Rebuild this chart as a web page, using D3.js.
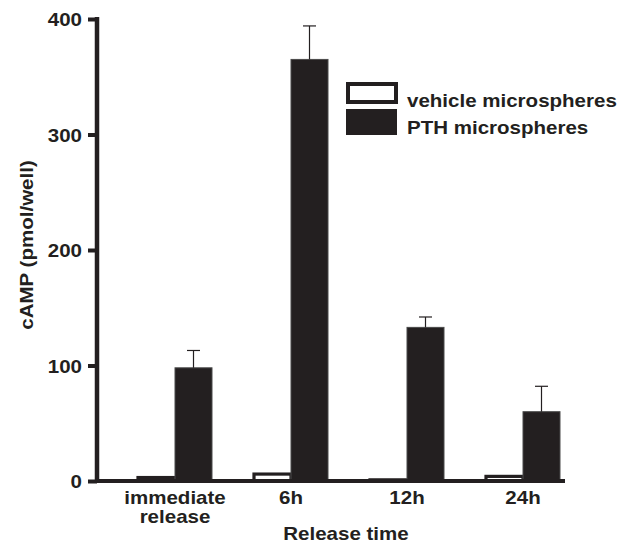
<!DOCTYPE html>
<html>
<head>
<meta charset="utf-8">
<script src="https://cdn.jsdelivr.net/npm/d3@7/dist/d3.min.js"></script>
<style>
  html, body { margin: 0; padding: 0; background: #fff; }
  svg { display: block; font-family: "Liberation Sans", Arial, sans-serif; font-weight: bold; }
</style>
</head>
<body>
<svg id="chart" width="620" height="543"></svg>
<script>
// Release-time groups and the two treatment series (cAMP, pmol/well)
const categories = ["immediate release", "6h", "12h", "24h"];
const categoryLines = [["immediate", "release"], ["6h"], ["12h"], ["24h"]];
const seriesNames = ["vehicle microspheres", "PTH microspheres"];
const vehicleValues = [3, 6, 1, 4];
const pthValues = [98, 365, 133, 60];
const vehicleErrors = [0, 0, 0, 0];
const pthErrors = [15, 29, 9, 22];
const yTicks = [0, 100, 200, 300, 400];

const ink = "#231f20";
const fontSize = "18px";
const stretch = 1.14; // wide bold lettering
const svg = d3.select("#chart");

// place a text at (x, y) with horizontally widened glyphs
function placeText(sel, x, y, rotate) {
  sel.attr("x", 0).attr("y", 0)
    .attr("transform", `translate(${x},${y})${rotate ? ` rotate(${rotate})` : ""} scale(${stretch},1)`);
  return sel;
}

const y = d3.scaleLinear().domain([0, 400]).range([481, 19]);
const x0 = d3.scaleBand().domain(categories).range([117, 581]).padding(0);
const x1 = d3.scaleBand().domain(seriesNames).range([21, 95]).padding(0);

const rows = categories.map((c, i) => ({
  cat: c,
  bars: [
    { s: seriesNames[0], v: vehicleValues[i], e: vehicleErrors[i] },
    { s: seriesNames[1], v: pthValues[i], e: pthErrors[i] }
  ]
}));

// Bars
const g = svg.append("g");
const groups = g.selectAll("g.grp").data(rows).join("g")
  .attr("class", "grp")
  .attr("transform", d => `translate(${x0(d.cat)},0)`);

groups.selectAll("rect").data(d => d.bars).join("rect")
  .attr("x", d => x1(d.s))
  .attr("width", x1.bandwidth())
  .attr("y", d => y(d.v))
  .attr("height", d => y(0) - y(d.v))
  .attr("fill", d => d.s === seriesNames[0] ? "#fff" : ink)
  .attr("stroke", d => d.s === seriesNames[0] ? ink : "#4a4a4a")
  .attr("stroke-width", d => d.s === seriesNames[0] ? 3.2 : 1);

// Upward error bars with caps
const err = groups.selectAll("g.err").data(d => d.bars.filter(b => b.e > 0)).join("g").attr("class", "err");
err.append("line")
  .attr("x1", d => x1(d.s) + x1.bandwidth() / 2)
  .attr("x2", d => x1(d.s) + x1.bandwidth() / 2)
  .attr("y1", d => y(d.v))
  .attr("y2", d => y(d.v + d.e))
  .attr("stroke", ink).attr("stroke-width", 1.2);
err.append("line")
  .attr("x1", d => x1(d.s) + x1.bandwidth() / 2 - 6.5)
  .attr("x2", d => x1(d.s) + x1.bandwidth() / 2 + 6.5)
  .attr("y1", d => y(d.v + d.e))
  .attr("y2", d => y(d.v + d.e))
  .attr("stroke", ink).attr("stroke-width", 1.2);

// X baseline
svg.append("line")
  .attr("x1", 97).attr("x2", 565)
  .attr("y1", y(0)).attr("y2", y(0))
  .attr("stroke", ink).attr("stroke-width", 4);

// Y axis
const yAxis = svg.append("g")
  .attr("transform", "translate(97,0)")
  .call(d3.axisLeft(y).tickValues(yTicks).tickSize(9).tickPadding(5).tickSizeOuter(0));
yAxis.select(".domain").attr("stroke", ink).attr("stroke-width", 4.5)
  .attr("d", `M0,${y(400) - 2}V${y(0) + 2}`);
yAxis.selectAll(".tick line").attr("stroke", ink).attr("stroke-width", 4);
yAxis.selectAll(".tick text")
  .attr("fill", ink)
  .attr("dy", null)
  .attr("dominant-baseline", null)
  .style("font-family", "'Liberation Sans', Arial, sans-serif")
  .style("font-weight", "bold")
  .style("font-size", fontSize)
  .each(function () { placeText(d3.select(this), -15, 6.5); });

// Category labels
const labels = svg.append("g");
rows.forEach((d, i) => {
  const cx = x0(d.cat) + x0.bandwidth() / 2;
  categoryLines[i].forEach((ln, j) => {
    placeText(labels.append("text"), cx, 504 + j * 19)
      .attr("text-anchor", "middle")
      .attr("fill", ink)
      .style("font-size", fontSize)
      .text(ln);
  });
});

// Axis titles
placeText(svg.append("text"), 346, 540)
  .attr("text-anchor", "middle")
  .attr("fill", ink)
  .style("font-size", fontSize)
  .text("Release time");

placeText(svg.append("text"), 33, 245, -90)
  .attr("text-anchor", "middle")
  .attr("fill", ink)
  .style("font-size", fontSize)
  .text("cAMP (pmol/well)");

// Legend
const legend = svg.append("g");
legend.append("rect")
  .attr("x", 348).attr("y", 84).attr("width", 48).attr("height", 18)
  .attr("fill", "#fff").attr("stroke", ink).attr("stroke-width", 4);
legend.append("rect")
  .attr("x", 346).attr("y", 109).attr("width", 51).attr("height", 26)
  .attr("fill", ink);
placeText(legend.append("text"), 407, 107)
  .attr("fill", ink).style("font-size", fontSize)
  .text(seriesNames[0]);
placeText(legend.append("text"), 407, 134)
  .attr("fill", ink).style("font-size", fontSize)
  .text(seriesNames[1]);
</script>
</body>
</html>
